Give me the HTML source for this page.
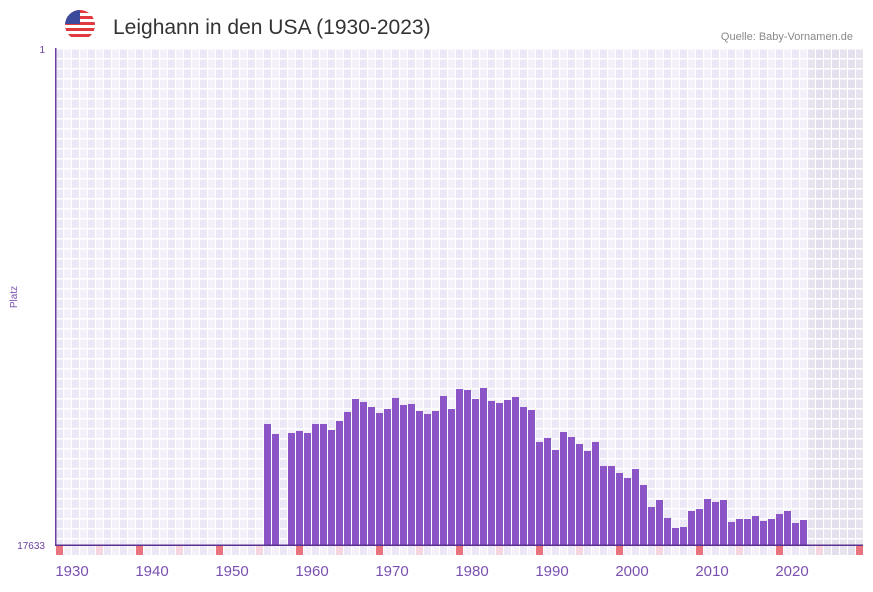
<!DOCTYPE html>
<html><head><meta charset="utf-8"><style>
body{margin:0;background:#fff;width:873px;height:587px;overflow:hidden;font-family:"Liberation Sans",sans-serif}
</style></head><body>
<svg id="s" width="873" height="587" xmlns="http://www.w3.org/2000/svg">
<defs><clipPath id="c" clipPathUnits="userSpaceOnUse"><circle cx="80" cy="25" r="15"/></clipPath></defs>
<g clip-path="url(#c)">
<rect x="65" y="10" width="30" height="30" fill="#fff"/>
<rect x="65" y="10" width="30" height="3" fill="#e0393e"/>
<rect x="65" y="16" width="30" height="3" fill="#e0393e"/>
<rect x="65" y="22" width="30" height="3" fill="#e0393e"/>
<rect x="65" y="28" width="30" height="3" fill="#e0393e"/>
<rect x="65" y="34" width="30" height="3" fill="#e0393e"/>
<rect x="65" y="10" width="15" height="14" fill="#3c4a9b"/>
</g>
<text x="113" y="34" font-size="21" fill="#333">Leighann in den USA (1930-2023)</text>
<text x="853" y="40" font-size="11" fill="#888" text-anchor="end">Quelle: Baby-Vornamen.de</text>
<g id="g"></g>
<text x="45" y="53" font-size="10" fill="#6a3fa0" text-anchor="end">1</text>
<text x="45" y="549" font-size="10" fill="#6a3fa0" text-anchor="end">17633</text>
<text x="17" y="297" font-size="10" fill="#7a4fb0" text-anchor="middle" transform="rotate(-90 17 297)">Platz</text>
</svg>
<script>
var g=document.getElementById('g'),h='';
for(var i=0;i<101;i++){var x=55+i*8;var yr=1928+i;
 var col=yr>=2022?(i%2?'#e3dfec':'#e8e4ef'):(i%2?'#f3f0fa':'#ece7f7');
 if(x<863)h+='<rect x="'+x+'" y="48" width="'+Math.min(8,863-x)+'" height="497" fill="'+col+'"/>';
 var m=col;if(yr%10==8)m='#e97480';else if(yr%10==3)m='#f5d6e0';
 if(x<863)h+='<rect x="'+(x+1)+'" y="546" width="'+Math.min(7,862-x)+'" height="9" fill="'+m+'"/>';
}
for(var x=55;x<863;x+=8)h+='<rect x="'+x+'" y="48" width="1" height="497" fill="#fff"/>';
for(var y=48;y<545;y+=10)h+='<rect x="55" y="'+y+'" width="808" height="1.5" fill="#fff"/>';
var d=[424,434,0,433,431,433,424,424,430,421,412,399,402,407,413,409,398,405,404,411,414,411,396,409,389,390,399,388,401,403,400,397,407,410,442,438,450,432,437,444,451,442,466,466,473,478,469,485,507,500,518,528,527,511,509,499,502,500,522,519,519,516,521,519,514,511,523,520];
for(var k=0;k<d.length;k++){if(!d[k])continue;var x=55+(26+k)*8+1;h+='<rect x="'+x+'" y="'+d[k]+'" width="7" height="'+(545-d[k])+'" fill="#8b55c8"/>';}
h+='<rect x="55" y="48" width="1.5" height="498" fill="#6a3fa0"/><rect x="55" y="544.5" width="808" height="1.5" fill="#5a3090"/>';
for(var yy=1930;yy<=2020;yy+=10){var x=55+(yy-1928)*8+1;h+='<text x="'+x+'" y="576" font-size="15" fill="#7a4fb0" text-anchor="middle">'+yy+'</text>';}
g.innerHTML=h;
</script>
</body></html>
